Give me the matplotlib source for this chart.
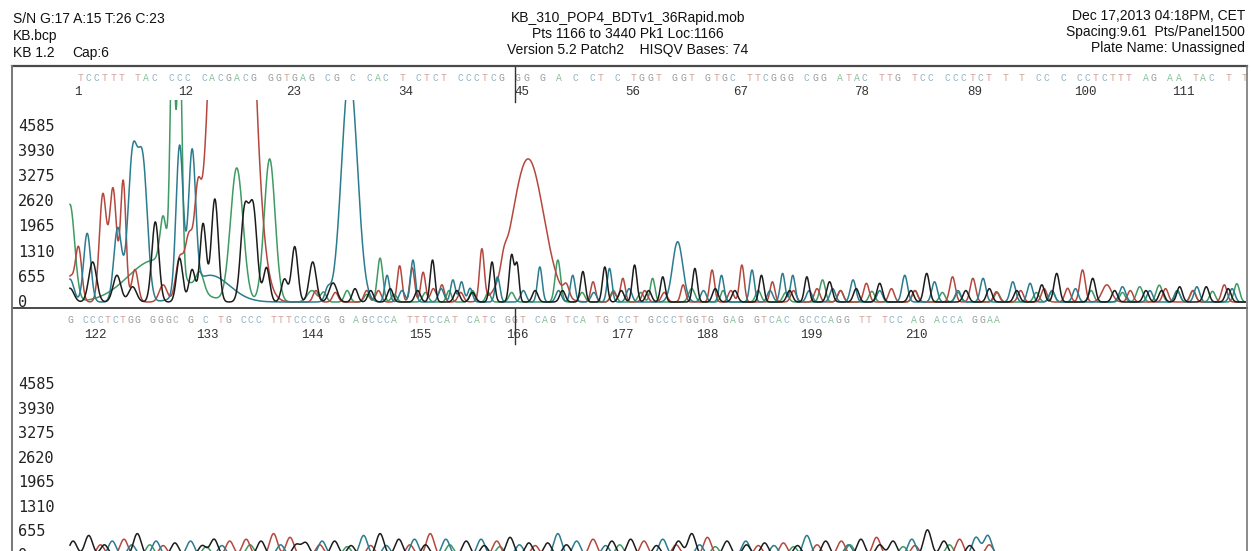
import numpy as np
import matplotlib
matplotlib.use("Agg")
import matplotlib.pyplot as plt
from matplotlib.lines import Line2D
from matplotlib.transforms import blended_transform_factory

W, H = 1251, 551

# header
header_left = ["S/N G:17 A:15 T:26 C:23", "KB.bcp", "KB 1.2"]
header_cap = "Cap:6"
header_mid = ["KB_310_POP4_BDTv1_36Rapid.mob",
              "Pts 1166 to 3440 Pk1 Loc:1166",
              "Version 5.2 Patch2    HISQV Bases: 74"]
header_right = ["Dec 17,2013 04:18PM, CET",
                "Spacing:9.61  Pts/Panel1500",
                "Plate Name: Unassigned"]

y_ticks = [0, 655, 1310, 1965, 2620, 3275, 3930, 4585]

# base calls and numbering (positions in scan points)
top_seq = ("TCCTTT TAC CCC CACGACG GGTGAG CG C CAC T CTCT CCCTCG GG G A C CT C "
           "TGGT GGT GTGC TTCGGG CGG ATAC TTG TCC CCCTCT T T CC C CCTCTTT AG AA TAC T T")
bot_seq = ("G CCCTCTGG GGGC G C TG CCC TTTCCCCG G AGCCCA TTTCCAT CATC GGT CAG TCA "
           "TG CCT GCCCTGGTG GAG GTCAC GCCCAGG TT TCC AG ACCA GGAA")
top_num = [1, 12, 23, 34, 45, 56, 67, 78, 89, 100, 111]
top_num_pos = [1176, 1314, 1452, 1595, 1743, 1885, 2023, 2177, 2321, 2463, 2588]
bot_num = [122, 133, 144, 155, 166, 177, 188, 199, 210]
bot_num_pos = [2699, 2841, 2975, 3113, 3237, 3371, 3480, 3613, 3747]
marker_top = 1734
marker_bot = 3234

# top panel main peaks: position (scan pts), height, width
top_A_pos = [1166, 1275, 1285, 1297, 1306, 1332, 1379, 1421, 1475, 1562, 1650, 1700,
             1789, 1910, 1960, 2000, 2127, 2300, 2400, 2532, 2557, 2600, 2656]
top_A_hgt = [2550, 1100, 1200, 6500, 6500, 500, 3500, 3750, 300, 1150, 300, 250,
             1100, 620, 350, 300, 580, 250, 250, 400, 440, 300, 480]
top_A_wid = [6, 35, 4, 3, 3, 5, 8, 7, 6, 3.5, 3, 3,
             3.5, 3, 4, 3, 3.5, 3.5, 3.5, 4, 4, 3.5, 3.5]

top_T_pos = [1166, 1177, 1208, 1221, 1234, 1249, 1285, 1306, 1318, 1329, 1373, 1587,
             1603, 1617, 1641, 1692, 1751, 1834, 1872, 1949, 1986, 2024, 2063, 2183,
             2293, 2319, 2349, 2440, 2459, 2490, 2640]
top_T_hgt = [650, 1400, 2800, 2950, 3150, 850, 450, 1100, 1500, 1800, 25000, 950,
             900, 780, 450, 1350, 3750, 530, 620, 450, 840, 970, 530, 490,
             660, 620, 270, 360, 840, 450, 450]
top_T_wid = [5, 4, 4.5, 4.5, 3.5, 4, 5, 5, 5, 4, 18, 3,
             3, 3, 3, 3, 20, 3, 3, 3, 3, 3, 3, 3.5,
             3.5, 3.5, 3.5, 3.5, 3.5, 6, 3.5]

top_C_pos = [1166, 1188, 1227, 1246, 1259, 1306, 1322, 1345, 1523, 1571, 1604, 1655,
             1666, 1677, 1712, 1766, 1808, 1855, 1942, 1998, 2037, 2076, 2089, 2166,
             2232, 2270, 2332, 2370, 2392, 2510, 2605]
top_C_hgt = [600, 1800, 1930, 3760, 3550, 3900, 3550, 700, 6000, 700, 1100, 580,
             530, 360, 660, 920, 700, 880, 1580, 700, 840, 750, 700, 580,
             700, 530, 620, 530, 490, 400, 400]
top_C_wid = [5, 4.5, 5, 6, 6, 4.5, 4.5, 25, 10, 3, 3, 3,
             3, 3, 3, 3, 3, 3, 6.5, 3, 3, 3, 3, 3.5,
             3.5, 3.5, 3.5, 3.5, 3.5, 4, 3.5]

top_G_pos = [1166, 1195, 1226, 1246, 1275, 1306, 1322, 1336, 1351, 1389, 1400, 1417,
             1440, 1453, 1476, 1502, 1629, 1705, 1730, 1737, 1821, 1849, 1887, 1923,
             1964, 2049, 2107, 2136, 2200, 2260, 2407, 2426, 2472, 2583, 2617]
top_G_hgt = [360, 1050, 700, 400, 2100, 1150, 850, 2050, 2700, 2350, 2400, 900,
             600, 1450, 1050, 500, 1100, 1050, 1230, 950, 800, 920, 970, 660,
             880, 700, 660, 530, 490, 750, 450, 750, 620, 400, 400]
top_G_wid = [5, 5, 5, 5, 4.5, 4, 4, 4, 4.5, 5, 5, 4,
             4, 4, 4.5, 5, 3, 3, 3, 2.5, 3, 3, 3, 3,
             3, 3, 3, 3.5, 3.5, 3.5, 3.5, 3.5, 3.5, 3.5, 3.5]

# top panel minor peaks along the baseline
top_A_minor_pos = [1490, 1520, 1545, 1580, 1620, 1680, 1730, 1820, 1860, 1895, 2045, 2080,
                   2150, 2190, 2245, 2280, 2350, 2420, 2470, 2510, 2580, 2625]
top_A_minor_hgt = [250, 300, 200, 200, 250, 300, 250, 250, 300, 250, 300, 250,
                   300, 280, 300, 250, 250, 280, 300, 250, 300, 280]
top_T_minor_pos = [1480, 1505, 1545, 1560, 1630, 1665, 1720, 1800, 1860, 1900, 1925, 2010,
                   2090, 2120, 2150, 2215, 2245, 2380, 2410, 2520, 2565, 2600]
top_T_minor_hgt = [300, 250, 300, 300, 350, 250, 300, 300, 250, 300, 250, 300,
                   300, 350, 300, 350, 300, 300, 350, 300, 350, 300]
top_C_minor_pos = [1495, 1590, 1640, 1745, 1790, 1835, 1880, 1975, 2060, 2110, 2140, 2200,
                   2300, 2420, 2450, 2545, 2580, 2650]
top_C_minor_hgt = [300, 300, 350, 300, 300, 250, 350, 300, 300, 300, 350, 300,
                   300, 300, 350, 300, 300, 350]
top_G_minor_pos = [1530, 1550, 1575, 1610, 1660, 1680, 1760, 1795, 1870, 1905, 1990, 2015,
                   2085, 2170, 2240, 2310, 2340, 2375, 2500, 2540, 2560, 2645]
top_G_minor_hgt = [350, 300, 350, 300, 300, 250, 300, 300, 300, 300, 350, 300,
                   300, 350, 300, 300, 350, 300, 300, 300, 300, 350]
minor_wid = 3.5

# bottom panel peaks
bot_G_pos = [2670, 2690, 2752, 2800, 2850, 2910, 2967, 3004, 3062, 3086, 3172, 3228, 3252,
             3276, 3358, 3382, 3443, 3460, 3505, 3553, 3631, 3676, 3717, 3761, 3782,
             2710, 2835, 2955, 3025, 3120, 3195, 3300, 3415, 3530, 3595, 3700, 3815]
bot_G_hgt = [400, 550, 600, 350, 450, 400, 350, 400, 600, 450, 400, 500, 350,
             350, 400, 450, 400, 600, 400, 350, 400, 450, 400, 700, 400,
             300, 280, 300, 280, 300, 280, 300, 280, 300, 280, 300, 280]
bot_T_pos = [2735, 2870, 2891, 2926, 2947, 3126, 3211, 3334, 3399, 3480, 3577, 3651, 3696,
             3802, 2705, 2785, 2985, 3050, 3100, 3260, 3440, 3545, 3620, 3745, 3840]
bot_T_hgt = [450, 400, 450, 600, 500, 600, 400, 450, 400, 500, 350, 400, 500,
             450, 300, 280, 300, 280, 300, 280, 300, 280, 300, 280, 300]
bot_C_pos = [2720, 2776, 2820, 2988, 3041, 3106, 3146, 3191, 3289, 3313, 3423, 3529, 3607,
             3741, 3823, 3838, 2745, 2860, 2935, 3070, 3240, 3350, 3470, 3565, 3660]
bot_C_hgt = [400, 400, 400, 400, 550, 450, 450, 450, 600, 400, 450, 400, 550,
             450, 500, 550, 300, 280, 300, 280, 300, 280, 300, 280, 300]
bot_A_pos = [2768, 2896, 3151, 3368, 3662, 3789, 2840, 3020, 3215, 3490, 3590, 3730]
bot_A_hgt = [300, 300, 300, 300, 300, 300, 250, 250, 250, 250, 250, 250]
bot_wid = 5

colors = {"A": "#3f9a63", "C": "#2b7c8e", "G": "#1c1c1c", "T": "#b4483e"}
seq_colors = {"A": "#8cc29c", "C": "#93b3c4", "G": "#9a9a9a", "T": "#d4a39a"}


def trace(x, pos, hgt, wid):
    if np.isscalar(wid):
        wid = [wid] * len(pos)
    y = np.zeros(len(x))
    for p, h, w in zip(pos, hgt, wid):
        y += h * np.exp(-0.5 * ((x - p) / w) ** 2)
    return y


def fx(px):
    return px / W


def fy(py):
    return 1 - py / H


fig = plt.figure(figsize=(W / 100, H / 100), dpi=100)
fig.patch.set_facecolor("white")

hfont = dict(family=["Liberation Sans", "DejaVu Sans"], size=10, color="#111111")
for i, s in enumerate(header_left):
    fig.text(fx(13), fy(19 + 17 * i), s, ha="left", va="center", **hfont)
fig.text(fx(72), fy(53), header_cap, ha="left", va="center", **hfont)
for i, s in enumerate(header_mid):
    fig.text(fx(628), fy(18 + 16 * i), s, ha="center", va="center", **hfont)
for i, s in enumerate(header_right):
    fig.text(fx(1245), fy(16 + 16 * i), s, ha="right", va="center", **hfont)

# panels
ax_top = fig.add_axes([fx(12), fy(308), (1247 - 12) / W, (308 - 100) / H])
ax_top.set_xlim(1092, 2669)
ax_top.set_ylim(-157, 5292)
ax_bot = fig.add_axes([fx(12), fy(551), (1247 - 12) / W, (551 - 341) / H])
ax_bot.set_xlim(2592, 4169)
ax_bot.set_ylim(134, 5762)

x_top = np.arange(1166, 2667, 0.5)
x_bot = np.arange(2666, 3857, 0.5)
top_data = [("A", top_A_pos, top_A_hgt, top_A_wid, top_A_minor_pos, top_A_minor_hgt),
            ("T", top_T_pos, top_T_hgt, top_T_wid, top_T_minor_pos, top_T_minor_hgt),
            ("C", top_C_pos, top_C_hgt, top_C_wid, top_C_minor_pos, top_C_minor_hgt),
            ("G", top_G_pos, top_G_hgt, top_G_wid, top_G_minor_pos, top_G_minor_hgt)]
bot_data = [("A", bot_A_pos, bot_A_hgt), ("T", bot_T_pos, bot_T_hgt),
            ("C", bot_C_pos, bot_C_hgt), ("G", bot_G_pos, bot_G_hgt)]
for base, pos, hgt, wid, mpos, mhgt in top_data:
    y = trace(x_top, pos, hgt, wid) + trace(x_top, mpos, mhgt, minor_wid)
    ax_top.plot(x_top, y, color=colors[base], lw=1.1)
for base, pos, hgt in bot_data:
    ax_bot.plot(x_bot, trace(x_bot, pos, hgt, bot_wid), color=colors[base], lw=1.1)

for ax, seq, seq_x0, seq_x1, nums, num_pos, y_seq, y_num, mark, y_mark in [
        (ax_top, top_seq, 1179, 2666, top_num, top_num_pos, 78, 92, marker_top, 66),
        (ax_bot, bot_seq, 2666, 3850, bot_num, bot_num_pos, 320, 335, marker_bot, 308)]:
    ax.axis("off")
    for v in y_ticks:
        ax.text(6 / 1235, v, str(v), transform=ax.get_yaxis_transform(), ha="left",
                va="center", clip_on=False, family="DejaVu Sans Mono", fontsize=11,
                color="#222222")
    bt = blended_transform_factory(ax.transData, fig.transFigure)
    xs = np.linspace(seq_x0, seq_x1, len(seq))
    for xx, ch in zip(xs, seq):
        if ch != " ":
            ax.text(xx, fy(y_seq), ch, transform=bt, ha="center", va="center",
                    family="Liberation Mono", fontsize=7, color=seq_colors[ch],
                    clip_on=False)
    for n, p in zip(nums, num_pos):
        ax.text(p, fy(y_num), str(n), transform=bt, ha="center", va="center",
                family="Liberation Mono", fontsize=9, color="#333333", clip_on=False)
    fig.add_artist(Line2D([mark, mark], [fy(y_mark), fy(y_mark + 36)], transform=bt,
                          color="#333333", lw=1.0))

# frame
fcol = "#4a4a4a"
fig.add_artist(Line2D([fx(12), fx(1247)], [fy(66), fy(66)], color=fcol, lw=1.6))
fig.add_artist(Line2D([fx(12), fx(1247)], [fy(308), fy(308)], color=fcol, lw=1.4))
fig.add_artist(Line2D([fx(12), fx(12)], [fy(66), 0], color="#777777", lw=1.4))
fig.add_artist(Line2D([fx(1247), fx(1247)], [fy(66), 0], color="#777777", lw=1.2))

fig.savefig("out.png", dpi=100, facecolor="white")
